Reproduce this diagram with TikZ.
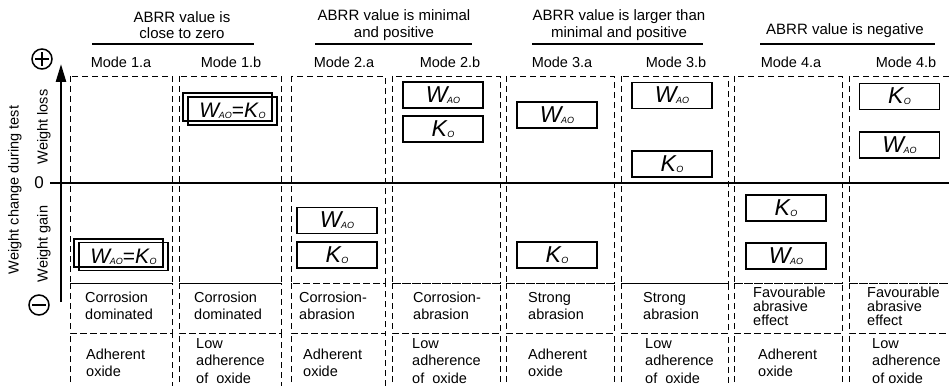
\documentclass[tikz,border=0pt]{standalone}
\usepackage{fontspec}
\setmainfont{Liberation Sans}
\usetikzlibrary{arrows.meta}

% symbols used in the value boxes
\newcommand{\wao}{{\itshape W\kern-0.5pt\raisebox{-1pt}{\fontsize{9}{9}\selectfont AO}}}
\newcommand{\ko}{{\itshape K\kern0.5pt\raisebox{-1pt}{\fontsize{9}{9}\selectfont O}}}

\tikzset{
  cell/.style = {dash pattern=on 6pt off 4pt, line width=0.8pt},
  valbox/.style = {draw, line width=1.6pt, minimum width=80pt, minimum height=26pt,
                   inner sep=0pt, font=\fontsize{23}{23}\selectfont},
  eqbox/.style = {draw, line width=1.6pt, minimum width=89pt, minimum height=28pt, inner sep=0pt},
  txt/.style = {anchor=west, align=left, inner sep=0pt, font=\fontsize{14.5}{17.5}\selectfont},
  hdr/.style = {align=center, inner sep=0pt, font=\fontsize{15}{16.5}\selectfont},
  modelbl/.style = {inner sep=0pt, font=\fontsize{14.5}{15}\selectfont},
  sign/.style = {circle, draw, line width=1.5pt, minimum size=20pt, inner sep=0pt}
}

\begin{document}
\begin{tikzpicture}[x=1pt, y=-1pt]
\clip (0, 0) rectangle (949, 385);

% group headings
\node [hdr] (g1) at (182, 25) {ABRR value is\\close to zero};
\node [hdr] (g2) at (394, 25) {ABRR value is minimal\\and positive};
\node [hdr] (g3) at (619, 25) {ABRR value is larger than\\minimal and positive};
\node [hdr] (g4) at (845, 31) {ABRR value is negative};
\draw [line width=1.2pt] (92, 44) to (254, 44);
\draw [line width=1.2pt] (315, 44) to (472, 44);
\draw [line width=1.2pt] (532, 44) to (703, 44);
\draw [line width=1.2pt] (760, 44) to (935, 44);

% mode names
\foreach \x/\m [count=\i] in {121/1.a, 231/1.b, 344/2.a, 450/2.b, 562/3.a, 676/3.b, 791/4.a, 906/4.b}
  \node [modelbl] (mode\i) at (\x, 62) {Mode \m};

% dashed cells
\foreach \l/\r in {70/172, 179/281, 291/385, 392/500, 506/614, 621/728, 734/842, 849/957} {
  \draw [cell] (\l, 76) rectangle (\r, 283);
  \draw [cell] (\l, 283) rectangle (\r, 333);
  \draw [cell] (\l, 392) -- (\l, 333) -- (\r, 333) -- (\r, 392);
}

% axes
\coordinate (ybot) at (61, 302);
\coordinate (ytop) at (61, 64);
\coordinate (xleft) at (50, 183);
\coordinate (xright) at (949, 183);
\draw [line width=2.5pt] (xleft) -- (xright);
\draw [line width=2.5pt, -{Triangle[length=18pt, width=10pt]}] (ybot) -- (ytop);
\node [font=\fontsize{17}{17}\selectfont, inner sep=0pt] (zero) at (39, 183) {0};
\node [sign] (plus) at (42, 59) {};
\draw [line width=1.5pt] ([xshift=-7pt]plus.center) -- ([xshift=7pt]plus.center);
\draw [line width=1.5pt] ([yshift=-7pt]plus.center) -- ([yshift=7pt]plus.center);
\node [sign] (minus) at (39, 305) {};
\draw [line width=1.5pt] ([xshift=-7pt]minus.center) -- ([xshift=7pt]minus.center);

\node [rotate=90, modelbl] (loss) at (44, 127) {Weight loss};
\node [rotate=90, modelbl] (gain) at (44, 244) {Weight gain};
\node [rotate=90, modelbl] (change) at (15, 190) {Weight change during test};

% mode 1: both terms equal
\draw [line width=1.6pt] (183, 93) rectangle (272, 121);
\node [eqbox] (eq1b) at (232.5, 111) {\fontsize{21}{21}\selectfont\wao=\ko};
\draw [line width=1.6pt] (74, 239) rectangle (163, 267);
\node [eqbox] (eq1a) at (123.5, 256.5) {\fontsize{21}{21}\selectfont\wao=\ko};

% modes 2 to 4
\node [valbox] (wao2a) at (337, 220.5) {\wao};
\node [valbox] (ko2a) at (337, 255) {\ko};
\node [valbox] (wao2b) at (443, 95) {\wao};
\node [valbox] (ko2b) at (443, 129) {\ko};
\node [valbox] (wao3a) at (557, 115) {\wao};
\node [valbox] (ko3a) at (557, 255) {\ko};
\node [valbox] (wao3b) at (672, 95.5) {\wao};
\node [valbox] (ko3b) at (672, 164) {\ko};
\node [valbox] (ko4a) at (786, 208) {\ko};
\node [valbox] (wao4a) at (786, 256) {\wao};
\node [valbox] (ko4b) at (899.5, 96.5) {\ko};
\node [valbox] (wao4b) at (899.5, 145) {\wao};

% wear mechanism
\node [txt] (mech1) at (85, 306) {Corrosion\\dominated};
\node [txt] (mech2) at (194, 306) {Corrosion\\dominated};
\node [txt] (mech3) at (299, 306) {Corrosion-\\abrasion};
\node [txt] (mech4) at (413, 306) {Corrosion-\\abrasion};
\node [txt] (mech5) at (528, 306) {Strong\\abrasion};
\node [txt] (mech6) at (643, 306) {Strong\\abrasion};
\node [txt, font=\fontsize{14.5}{14}\selectfont] (mech7) at (753, 306) {Favourable\\abrasive\\effect};
\node [txt, font=\fontsize{14.5}{14}\selectfont] (mech8) at (867, 306) {Favourable\\abrasive\\effect};

% oxide adherence
\node [txt] (ox1) at (86, 363) {Adherent\\oxide};
\node [txt] (ox2) at (196, 361) {Low\\adherence\\of~ oxide};
\node [txt] (ox3) at (303, 363) {Adherent\\oxide};
\node [txt] (ox4) at (412, 361) {Low\\adherence\\of~ oxide};
\node [txt] (ox5) at (528, 363) {Adherent\\oxide};
\node [txt] (ox6) at (645, 361) {Low\\adherence\\of~ oxide};
\node [txt] (ox7) at (758, 363) {Adherent\\oxide};
\node [txt] (ox8) at (872, 361) {Low\\adherence\\of oxide};
\end{tikzpicture}
\end{document}
